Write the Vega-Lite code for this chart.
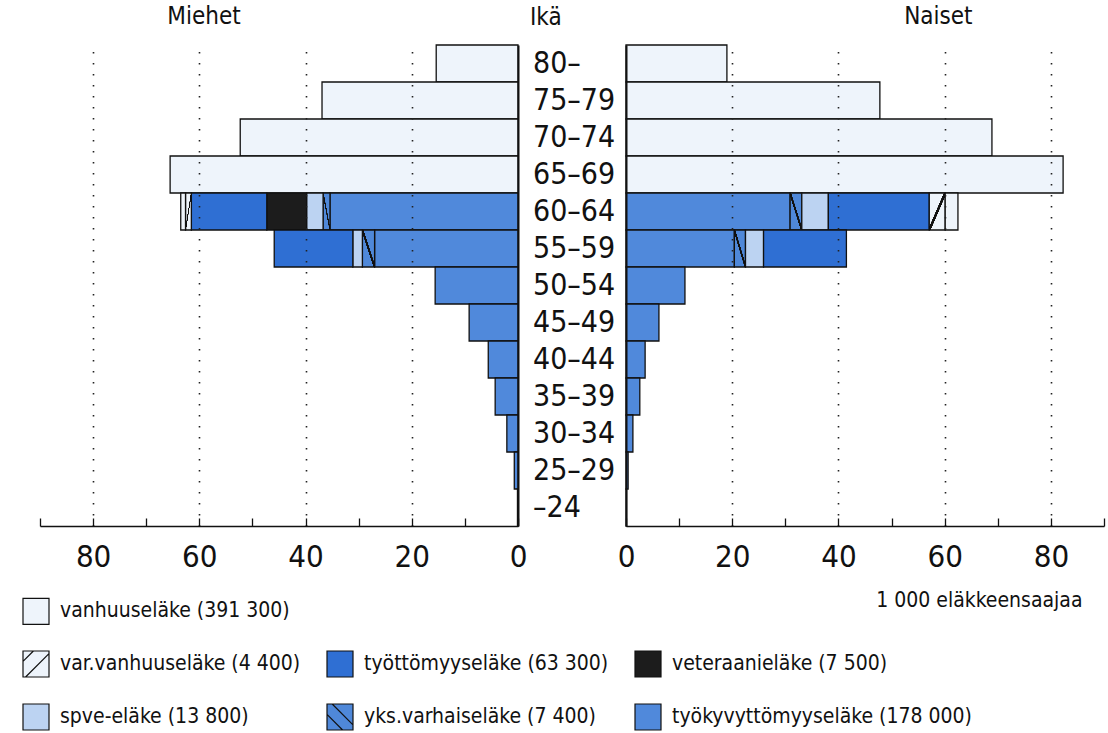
{
  "$schema": "https://vega.github.io/schema/vega-lite/v6.json",
  "background": "white",
  "padding": {"left": 22, "top": 5, "right": 2, "bottom": 5},
  "bounds": "flush",
  "spacing": 0,
  "config": {
    "font": "DejaVu Sans Condensed, Roboto, sans-serif",
    "view": {"stroke": null},
    "axis": {
      "domainColor": "#111", "domainWidth": 1.6, "tickColor": "#111", "tickWidth": 1.3,
      "labelFont": "DejaVu Sans Condensed, Roboto, sans-serif", "labelColor": "#111",
      "gridColor": "#222", "gridDash": [1.6, 9.4], "gridWidth": 1.6
    }
  },
  "datasets": {
    "p": [
      {"s": "M", "age": "80–", "type": "vanhuuseläke (391 300)", "v": 15.4},
      {"s": "M", "age": "75–79", "type": "vanhuuseläke (391 300)", "v": 36.9},
      {"s": "M", "age": "70–74", "type": "vanhuuseläke (391 300)", "v": 52.3},
      {"s": "M", "age": "65–69", "type": "vanhuuseläke (391 300)", "v": 65.5},
      {"s": "M", "age": "60–64", "type": "työkyvyttömyyseläke (178 000)", "v": 35.4},
      {"s": "M", "age": "60–64", "type": "yks.varhaiseläke (7 400)", "v": 1.3},
      {"s": "M", "age": "60–64", "type": "spve-eläke (13 800)", "v": 3.1},
      {"s": "M", "age": "60–64", "type": "veteraanieläke (7 500)", "v": 7.5},
      {"s": "M", "age": "60–64", "type": "työttömyyseläke (63 300)", "v": 14.2},
      {"s": "M", "age": "60–64", "type": "var.vanhuuseläke (4 400)", "v": 1.1},
      {"s": "M", "age": "60–64", "type": "vanhuuseläke (391 300)", "v": 0.9},
      {"s": "M", "age": "55–59", "type": "työkyvyttömyyseläke (178 000)", "v": 27.0},
      {"s": "M", "age": "55–59", "type": "yks.varhaiseläke (7 400)", "v": 2.3},
      {"s": "M", "age": "55–59", "type": "spve-eläke (13 800)", "v": 1.8},
      {"s": "M", "age": "55–59", "type": "työttömyyseläke (63 300)", "v": 14.8},
      {"s": "M", "age": "50–54", "type": "työkyvyttömyyseläke (178 000)", "v": 15.6},
      {"s": "M", "age": "45–49", "type": "työkyvyttömyyseläke (178 000)", "v": 9.2},
      {"s": "M", "age": "40–44", "type": "työkyvyttömyyseläke (178 000)", "v": 5.6},
      {"s": "M", "age": "35–39", "type": "työkyvyttömyyseläke (178 000)", "v": 4.3},
      {"s": "M", "age": "30–34", "type": "työkyvyttömyyseläke (178 000)", "v": 2.1},
      {"s": "M", "age": "25–29", "type": "työkyvyttömyyseläke (178 000)", "v": 0.7},
      {"s": "M", "age": "–24", "type": "työkyvyttömyyseläke (178 000)", "v": 0.1},
      {"s": "N", "age": "80–", "type": "vanhuuseläke (391 300)", "v": 19.0},
      {"s": "N", "age": "75–79", "type": "vanhuuseläke (391 300)", "v": 47.8},
      {"s": "N", "age": "70–74", "type": "vanhuuseläke (391 300)", "v": 68.9},
      {"s": "N", "age": "65–69", "type": "vanhuuseläke (391 300)", "v": 82.3},
      {"s": "N", "age": "60–64", "type": "työkyvyttömyyseläke (178 000)", "v": 30.9},
      {"s": "N", "age": "60–64", "type": "yks.varhaiseläke (7 400)", "v": 2.2},
      {"s": "N", "age": "60–64", "type": "spve-eläke (13 800)", "v": 5.0},
      {"s": "N", "age": "60–64", "type": "työttömyyseläke (63 300)", "v": 19.0},
      {"s": "N", "age": "60–64", "type": "var.vanhuuseläke (4 400)", "v": 3.0},
      {"s": "N", "age": "60–64", "type": "vanhuuseläke (391 300)", "v": 2.4},
      {"s": "N", "age": "55–59", "type": "työkyvyttömyyseläke (178 000)", "v": 20.4},
      {"s": "N", "age": "55–59", "type": "yks.varhaiseläke (7 400)", "v": 2.1},
      {"s": "N", "age": "55–59", "type": "spve-eläke (13 800)", "v": 3.4},
      {"s": "N", "age": "55–59", "type": "työttömyyseläke (63 300)", "v": 15.6},
      {"s": "N", "age": "50–54", "type": "työkyvyttömyyseläke (178 000)", "v": 11.1},
      {"s": "N", "age": "45–49", "type": "työkyvyttömyyseläke (178 000)", "v": 6.2},
      {"s": "N", "age": "40–44", "type": "työkyvyttömyyseläke (178 000)", "v": 3.6},
      {"s": "N", "age": "35–39", "type": "työkyvyttömyyseläke (178 000)", "v": 2.6},
      {"s": "N", "age": "30–34", "type": "työkyvyttömyyseläke (178 000)", "v": 1.3},
      {"s": "N", "age": "25–29", "type": "työkyvyttömyyseläke (178 000)", "v": 0.4},
      {"s": "N", "age": "–24", "type": "työkyvyttömyyseläke (178 000)", "v": 0.1}
    ],
    "ages": [
      {"age": "80–"}, {"age": "75–79"}, {"age": "70–74"}, {"age": "65–69"}, {"age": "60–64"},
      {"age": "55–59"}, {"age": "50–54"}, {"age": "45–49"}, {"age": "40–44"}, {"age": "35–39"},
      {"age": "30–34"}, {"age": "25–29"}, {"age": "–24"}
    ]
  },
  "hconcat": [
    {
      "width": 478, "height": 481,
      "title": {"text": "Miehet", "anchor": "start", "dx": 128, "offset": 15, "fontSize": 24, "fontWeight": "normal", "color": "#111"},
      "data": {"name": "p"},
      "transform": [
        {"filter": "datum.s === 'M'"},
        {"calculate": "indexof(['työkyvyttömyyseläke (178 000)', 'yks.varhaiseläke (7 400)', 'spve-eläke (13 800)', 'veteraanieläke (7 500)', 'työttömyyseläke (63 300)', 'var.vanhuuseläke (4 400)', 'vanhuuseläke (391 300)'], datum.type)", "as": "k"}
      ],
      "mark": {"type": "bar", "stroke": "#111", "strokeWidth": 1.3},
      "encoding": {
        "y": {"field": "age", "type": "ordinal",
          "scale": {"domain": ["80–","75–79","70–74","65–69","60–64","55–59","50–54","45–49","40–44","35–39","30–34","25–29","–24"], "paddingInner": 0, "paddingOuter": 0},
          "axis": {"orient": "right", "labels": false, "ticks": false, "title": null, "domain": true, "grid": false, "zindex": 1, "domainWidth": 2}},
        "x": {"field": "v", "type": "quantitative", "stack": "zero",
          "scale": {"domain": [0, 90], "reverse": true, "nice": false},
          "axis": {"values": [0,10,20,30,40,50,60,70,80,90],
            "labelExpr": "datum.value % 20 === 0 && datum.value < 90 ? datum.label : ''",
            "grid": true,
            "gridOpacity": {"condition": {"test": "datum.value % 20 === 0 && datum.value > 0 && datum.value < 90", "value": 1}, "value": 0},
            "tickSize": -8, "labelPadding": 24, "labelFontSize": 31, "title": null, "zindex": 1, "labelFlush": false, "labelOverlap": false}},
        "order": {"field": "k", "type": "quantitative"},
        "fill": {
          "field": "type", "type": "nominal",
          "scale": {
            "domain": ["vanhuuseläke (391 300)", "var.vanhuuseläke (4 400)", "spve-eläke (13 800)", " ", "työttömyyseläke (63 300)", "yks.varhaiseläke (7 400)", "  ", "veteraanieläke (7 500)", "työkyvyttömyyseläke (178 000)"],
            "range": ["#eef4fb", "#eef4fb", "#bcd3f2", "transparent", "#2f6fd3", "#4f88d9", "transparent", "#1c1c1c", "#5089db"]
          },
          "legend": {
            "orient": "none", "legendX": -18, "legendY": 552, "columns": 3, "title": null,
            "symbolType": "square", "symbolSize": 676, "symbolStrokeColor": "#111", "symbolStrokeWidth": 1.2, "symbolOpacity": 1,
            "labelFontSize": 21, "labelColor": "#111", "labelOffset": 10, "labelLimit": 400,
            "columnPadding": 23, "rowPadding": 21,
            "encode": {"symbols": {"update": {
              "shape": {"signal": "datum.value === 'var.vanhuuseläke (4 400)' ? 'M-1,-1H1V1H-1Z M-0.8,1L1,-0.8 M-1,-0.2L-0.2,-1' : datum.value === 'yks.varhaiseläke (7 400)' ? 'M-1,-1H1V1H-1Z M-0.6,-1L1,0.6 M-1,-0.2L0.2,1' : 'square'"},
              "stroke": {"signal": "datum.value === ' ' || datum.value === '  ' ? 'transparent' : '#111'"}
            }}}
          },
          "condition": [
            {"test": "datum.type === 'var.vanhuuseläke (4 400)'", "value": {"gradient": "linear", "x1": 0, "y1": 0, "x2": 1, "y2": 1, "stops": [{"offset": 0, "color": "#eef4fb"}, {"offset": 0.45, "color": "#eef4fb"}, {"offset": 0.46, "color": "#111"}, {"offset": 0.54, "color": "#111"}, {"offset": 0.55, "color": "#eef4fb"}, {"offset": 1, "color": "#eef4fb"}]}},
            {"test": "datum.type === 'yks.varhaiseläke (7 400)'", "value": {"gradient": "linear", "x1": 0, "y1": 1, "x2": 1, "y2": 0, "stops": [{"offset": 0, "color": "#4f88d9"}, {"offset": 0.45, "color": "#4f88d9"}, {"offset": 0.46, "color": "#111"}, {"offset": 0.54, "color": "#111"}, {"offset": 0.55, "color": "#4f88d9"}, {"offset": 1, "color": "#4f88d9"}]}}
          ]
        }
      }
    },
    {
      "width": 108, "height": 481,
      "title": {"text": "Ikä", "anchor": "start", "dx": 12, "offset": 15, "fontSize": 24, "fontWeight": "normal", "color": "#111"},
      "data": {"name": "ages"},
      "mark": {"type": "text", "align": "left", "baseline": "middle", "dx": -39, "fontSize": 30, "color": "#111"},
      "encoding": {
        "y": {"field": "age", "type": "ordinal",
          "scale": {"domain": ["80–","75–79","70–74","65–69","60–64","55–59","50–54","45–49","40–44","35–39","30–34","25–29","–24"], "paddingInner": 0, "paddingOuter": 0},
          "axis": null},
        "text": {"field": "age"}
      }
    },
    {
      "width": 478, "height": 481,
      "title": {"text": "Naiset", "anchor": "start", "dx": 287, "offset": 15, "fontSize": 24, "fontWeight": "normal", "color": "#111"},
      "data": {"name": "p"},
      "transform": [
        {"filter": "datum.s === 'N'"},
        {"calculate": "indexof(['työkyvyttömyyseläke (178 000)', 'yks.varhaiseläke (7 400)', 'spve-eläke (13 800)', 'veteraanieläke (7 500)', 'työttömyyseläke (63 300)', 'var.vanhuuseläke (4 400)', 'vanhuuseläke (391 300)'], datum.type)", "as": "k"}
      ],
      "mark": {"type": "bar", "stroke": "#111", "strokeWidth": 1.3},
      "encoding": {
        "y": {"field": "age", "type": "ordinal",
          "scale": {"domain": ["80–","75–79","70–74","65–69","60–64","55–59","50–54","45–49","40–44","35–39","30–34","25–29","–24"], "paddingInner": 0, "paddingOuter": 0},
          "axis": {"orient": "left", "labels": false, "ticks": false, "title": null, "domain": true, "grid": false, "zindex": 1, "domainWidth": 2}},
        "x": {"field": "v", "type": "quantitative", "stack": "zero",
          "scale": {"domain": [0, 90], "nice": false},
          "axis": {"values": [0,10,20,30,40,50,60,70,80,90],
            "labelExpr": "datum.value % 20 === 0 && datum.value < 90 ? datum.label : ''",
            "grid": true,
            "gridOpacity": {"condition": {"test": "datum.value % 20 === 0 && datum.value > 0 && datum.value < 90", "value": 1}, "value": 0},
            "tickSize": -8, "labelPadding": 24, "labelFontSize": 31, "zindex": 1, "labelFlush": false, "labelOverlap": false,
            "title": "1 000 eläkkeensaajaa", "titleFontSize": 21, "titleFontWeight": "normal", "titleColor": "#111",
            "titleAnchor": "end", "titleAlign": "right", "titleX": 456, "titleY": 80, "titleBaseline": "alphabetic"}},
        "order": {"field": "k", "type": "quantitative"},
        "fill": {
          "field": "type", "type": "nominal",
          "scale": {
            "domain": ["vanhuuseläke (391 300)", "var.vanhuuseläke (4 400)", "spve-eläke (13 800)", " ", "työttömyyseläke (63 300)", "yks.varhaiseläke (7 400)", "  ", "veteraanieläke (7 500)", "työkyvyttömyyseläke (178 000)"],
            "range": ["#eef4fb", "#eef4fb", "#bcd3f2", "transparent", "#2f6fd3", "#4f88d9", "transparent", "#1c1c1c", "#5089db"]
          },
          "legend": {
            "orient": "none", "legendX": -18, "legendY": 552, "columns": 3, "title": null,
            "symbolType": "square", "symbolSize": 676, "symbolStrokeColor": "#111", "symbolStrokeWidth": 1.2, "symbolOpacity": 1,
            "labelFontSize": 21, "labelColor": "#111", "labelOffset": 10, "labelLimit": 400,
            "columnPadding": 23, "rowPadding": 21,
            "encode": {"symbols": {"update": {
              "shape": {"signal": "datum.value === 'var.vanhuuseläke (4 400)' ? 'M-1,-1H1V1H-1Z M-0.8,1L1,-0.8 M-1,-0.2L-0.2,-1' : datum.value === 'yks.varhaiseläke (7 400)' ? 'M-1,-1H1V1H-1Z M-0.6,-1L1,0.6 M-1,-0.2L0.2,1' : 'square'"},
              "stroke": {"signal": "datum.value === ' ' || datum.value === '  ' ? 'transparent' : '#111'"}
            }}}
          },
          "condition": [
            {"test": "datum.type === 'var.vanhuuseläke (4 400)'", "value": {"gradient": "linear", "x1": 0, "y1": 0, "x2": 1, "y2": 1, "stops": [{"offset": 0, "color": "#eef4fb"}, {"offset": 0.45, "color": "#eef4fb"}, {"offset": 0.46, "color": "#111"}, {"offset": 0.54, "color": "#111"}, {"offset": 0.55, "color": "#eef4fb"}, {"offset": 1, "color": "#eef4fb"}]}},
            {"test": "datum.type === 'yks.varhaiseläke (7 400)'", "value": {"gradient": "linear", "x1": 0, "y1": 1, "x2": 1, "y2": 0, "stops": [{"offset": 0, "color": "#4f88d9"}, {"offset": 0.45, "color": "#4f88d9"}, {"offset": 0.46, "color": "#111"}, {"offset": 0.54, "color": "#111"}, {"offset": 0.55, "color": "#4f88d9"}, {"offset": 1, "color": "#4f88d9"}]}}
          ]
        }
      }
    }
  ]
}
